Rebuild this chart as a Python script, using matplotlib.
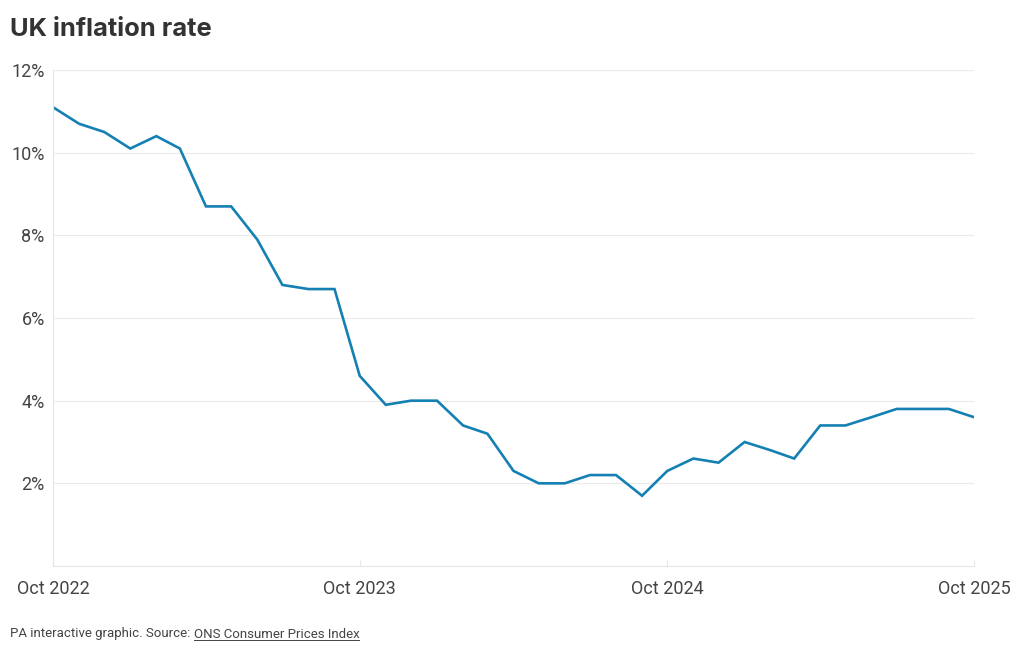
import numpy as np
import pandas as pd
import matplotlib
matplotlib.use("Agg")
import matplotlib.pyplot as plt
from matplotlib.lines import Line2D

plt.rcParams['font.family'] = ['Roboto', 'DejaVu Sans']

# monthly CPI annual rate, Oct 2022 - Oct 2025
months = pd.date_range("2022-10-01", "2025-10-01", freq="MS")
cpi = [11.1, 10.7, 10.5, 10.1, 10.4, 10.1, 8.7, 8.7, 7.9, 6.8, 6.7, 6.7,
       4.6, 3.9, 4.0, 4.0, 3.4, 3.2, 2.3, 2.0, 2.0, 2.2, 2.2, 1.7,
       2.3, 2.6, 2.5, 3.0, 2.8, 2.6, 3.4, 3.4, 3.6, 3.8, 3.8, 3.8,
       3.6]
y_ticks = [2, 4, 6, 8, 10, 12]
x_ticks = ["2022-10-01", "2023-10-01", "2024-10-01", "2025-10-01"]
x_labels = ["Oct 2022", "Oct 2023", "Oct 2024", "Oct 2025"]

fig = plt.figure(figsize=(10.2, 6.5), dpi=100)
ax = fig.add_axes([53/1020, 1-566/650, (974-53)/1020, (566-70)/650])

ax.plot(months, cpi, color='#1580b3', lw=1.9, solid_joinstyle='miter')

ax.set_ylim(0, 12)
ax.set_xlim(months[0], months[-1])
ax.set_yticks(y_ticks)
ax.set_yticklabels([f"{t}%" for t in y_ticks])
ax.set_xticks(pd.to_datetime(x_ticks))
ax.set_xticklabels(x_labels)
ax.grid(axis='y', color='#ebebeb', lw=0.8)
ax.set_axisbelow(True)

for s in ['top', 'right']:
    ax.spines[s].set_visible(False)
for s in ['left', 'bottom']:
    ax.spines[s].set_color('#e6e6e6')
    ax.spines[s].set_linewidth(0.8)

ax.tick_params(axis='y', length=0, pad=6, labelsize=13, labelcolor='#444444')
ax.tick_params(axis='x', direction='in', length=4, color='#e6e6e6',
               pad=10, labelsize=13, labelcolor='#444444')

fig.text(10/1020, 1-29/650, "UK inflation rate", fontsize=18.4, fontweight='bold',
         color='#333333', va='center', ha='left', family=['Inter', 'DejaVu Sans'])

t1 = fig.text(10/1020, 1-634/650, "PA interactive graphic. Source: ", fontsize=9.5,
              color='#444444', va='center', ha='left')
fig.canvas.draw()
r = fig.canvas.get_renderer()
bb = t1.get_window_extent(r)
t2 = fig.text(bb.x1/1020, 1-634/650, "ONS Consumer Prices Index", fontsize=9.5,
              color='#444444', va='center', ha='left')
bb2 = t2.get_window_extent(r)
uy = (bb2.y0 + 1) / 650
fig.add_artist(Line2D([bb2.x0/1020, bb2.x1/1020], [uy, uy], color='#444444', lw=0.7))

fig.savefig("out.png", dpi=100)
